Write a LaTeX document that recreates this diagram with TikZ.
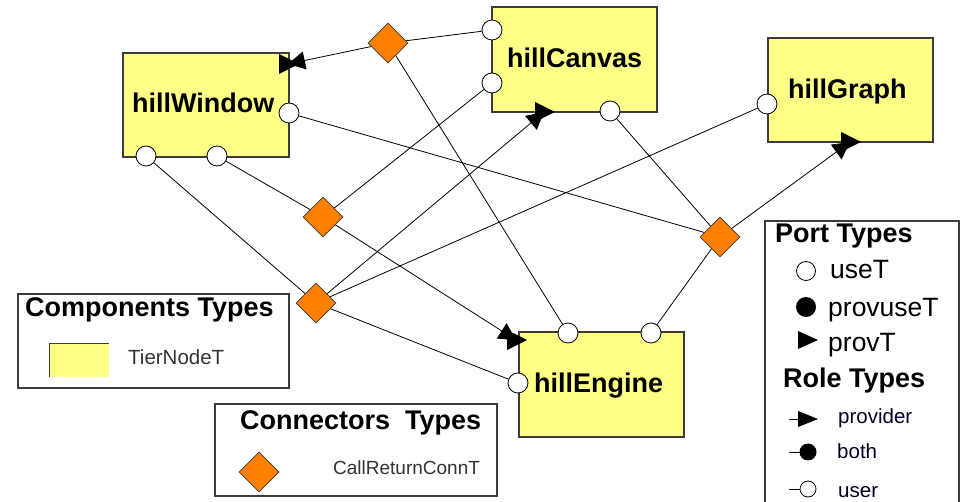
\documentclass[tikz,border=0pt]{standalone}
\usepackage{fontspec}
\setmainfont{Liberation Sans}
\usetikzlibrary{shapes.geometric,arrows.meta}
\definecolor{boxyellow}{RGB}{255,255,136}
\definecolor{connorange}{RGB}{255,128,0}
\definecolor{edgegray}{RGB}{60,60,60}
\begin{document}
\begin{tikzpicture}[x=1pt,y=-1pt,
  compbox/.style={draw=edgegray, line width=1.4pt, fill=boxyellow, inner sep=0pt},
  useport/.style={circle, draw=black, line width=0.8pt, fill=white, minimum size=20pt, inner sep=0pt},
  conn/.style={diamond, draw=edgegray, line width=0.8pt, fill=connorange, minimum width=40pt, minimum height=40pt, inner sep=0pt},
  link/.style={draw=black, line width=0.8pt},
  provlink/.style={draw=black, line width=0.8pt, -{Triangle[length=17pt,width=18pt]}},
  compname/.style={anchor=base west, inner sep=0pt, font=\fontsize{27pt}{30pt}\bfseries\selectfont},
  legtitle/.style={anchor=base west, inner sep=0pt, font=\fontsize{27pt}{30pt}\bfseries\selectfont},
  legitem/.style={anchor=base west, inner sep=0pt, font=\fontsize{26.5pt}{30pt}\selectfont},
  legsmall/.style={anchor=base west, inner sep=0pt, font=\fontsize{20.5pt}{24pt}\selectfont, text=black!85!blue},
  legendbox/.style={draw=edgegray, line width=1.4pt}
]
\useasboundingbox (0,0) rectangle (962,502);
\fill[white] (0,0) rectangle (962,502);

% components
\node[compbox, minimum width=166pt, minimum height=104pt] (win) at (206,105) {};
\node[compbox, minimum width=165pt, minimum height=105pt] (can) at (574.5,59.5) {};
\node[compbox, minimum width=165pt, minimum height=104pt] (gra) at (850.5,90) {};
\node[compbox, minimum width=165pt, minimum height=105pt] (eng) at (601.5,384.5) {};

\node[compname] (winname) at (132,113) {hillWindow};
\node[compname] (canname) at (507,68) {hillCanvas};
\node[compname] (graname) at (788,99) {hillGraph};
\node[compname] (engname) at (534,393) {hillEngine};

% ports
\node[useport] (wb1) at (146,156) {};
\node[useport] (wb2) at (217,156) {};
\node[useport] (wr) at (289,113) {};
\coordinate (wprov) at (288,64);
\node[useport] (cl1) at (492,30) {};
\node[useport] (cl2) at (492,83) {};
\node[useport] (cb) at (610,111) {};
\coordinate (cprov) at (544,112);
\node[useport] (gl) at (767,104) {};
\coordinate (gprov) at (850,142);
\node[useport] (et1) at (568,333) {};
\node[useport] (et2) at (651,333) {};
\node[useport] (el) at (518,383) {};
\coordinate (eprov) at (516,340);

% connectors
\node[conn] (d1) at (388,43) {};
\node[conn] (d2) at (323,217) {};
\node[conn] (d3) at (316,303) {};
\node[conn] (d4) at (720,237) {};

% attachments
\draw[link] (d1) -- (cl1);
\draw[provlink] (d1) -- (wprov);
\draw[link] (d1) -- (et1);

\draw[link] (d2) -- (wb2);
\draw[link] (d2) -- (cl2);
\draw[provlink] (d2) -- (eprov);

\draw[link] (d3) -- (wb1);
\draw[provlink] (d3) -- (cprov);
\draw[link] (d3) -- (gl);
\draw[link] (d3) -- (el);

\draw[link] (d4) -- (wr);
\draw[link] (d4) -- (cb);
\draw[provlink] (d4) -- (gprov);
\draw[link] (d4) -- (et2);

% provided ports (triangles)
\foreach \p in {wprov,cprov,gprov,eprov}
  \fill[black, shift={(\p)}] (-9,-10) -- (-9,10) -- (11,0) -- cycle;

% legend: components
\draw[legendbox] (18,294) rectangle (289,388);
\node[legtitle] (comptitle) at (25,317) {Components Types};
\fill[boxyellow] (49,344) rectangle (109,377);
\draw[edgegray, line width=1pt] (49,377) -- (49,344) -- (109,344);
\node[legsmall, text=black!80] (tiernode) at (128,365) {TierNodeT};

% legend: connectors
\draw[legendbox] (215,404) rectangle (497,496);
\node[legtitle] (conntitle) at (240,430) {Connectors\ \ Types};
\node[conn] (legconn) at (259,472) {};
\node[legsmall, text=black!80, font=\fontsize{19pt}{22pt}\selectfont] (callret) at (333,475) {CallReturnConnT};

% legend: ports and roles
\draw[legendbox] (765,221) -- (959,221) -- (959,512) -- (765,512) -- cycle;
\node[legtitle] (porttitle) at (775,243) {Port Types};
\draw[black, line width=0.8pt, fill=white] (806,271) circle (9.5);
\node[legitem] (uset) at (830,279) {useT};
\fill[black] (806,307) circle (10);
\node[legitem] (provuset) at (828,317) {provuseT};
\fill[black] (798,331) -- (798,349) -- (818,340) -- cycle;
\node[legitem] (provt) at (828,352) {provT};
\node[legtitle] (roletitle) at (783,388) {Role Types};

\draw[black, line width=0.9pt] (789,419) -- (800,419);
\fill[black] (798,411) -- (798,427) -- (818,419) -- cycle;
\node[legsmall] (provider) at (838,424) {provider};
\draw[black, line width=0.9pt] (789,452) -- (800,452);
\fill[black] (808,452) circle (8.5);
\node[legsmall] (both) at (837,459) {both};
\draw[black, line width=0.9pt] (789,489) -- (800,489);
\draw[black, line width=0.8pt, fill=white] (808,489) circle (8);
\node[legsmall] (user) at (838,498) {user};
\end{tikzpicture}
\end{document}
